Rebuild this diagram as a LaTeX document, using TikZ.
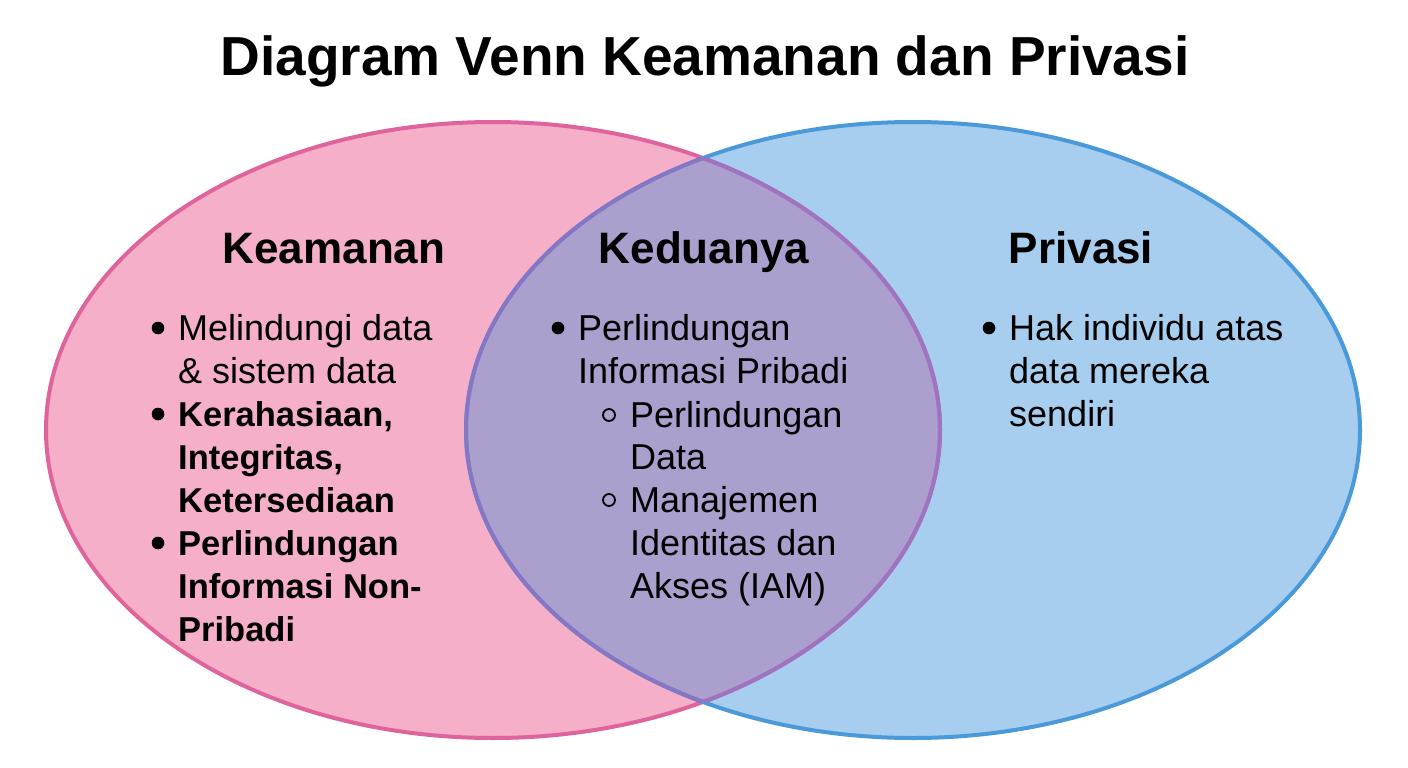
\documentclass[tikz,border=0pt]{standalone}
\usepackage{fontspec}
\setmainfont{Liberation Sans}
\definecolor{pinkfill}{HTML}{F5AFC9}
\definecolor{pinkline}{HTML}{E0649C}
\definecolor{bluefill}{HTML}{A7CEEE}
\definecolor{blueline}{HTML}{4A9ADA}
\definecolor{purplefill}{HTML}{AB9FCD}
\definecolor{lensleft}{HTML}{8676C4}
\definecolor{lensright}{HTML}{9C74C0}
\begin{document}
\begin{tikzpicture}[x=1pt,y=-1pt,
  body/.style={inner sep=0pt, anchor=base west, font=\fontsize{36}{43}\selectfont},
  bodyb/.style={inner sep=0pt, anchor=base west, font=\fontsize{34.5}{43}\selectfont\bfseries},
  head/.style={inner sep=0pt, anchor=base, font=\fontsize{44}{50}\selectfont\bfseries},
  ttl/.style={inner sep=0pt, anchor=base, font=\fontsize{55}{60}\selectfont\bfseries},
  outl/.style={line width=4pt}]
\fill[white] (0,0) rectangle (1408,768);
% fills
\fill[pinkfill] (493,430) ellipse (447 and 308);
\fill[bluefill] (913,430) ellipse (447 and 308);
\begin{scope}
  \clip (493,430) ellipse (447 and 308);
  \fill[purplefill] (913,430) ellipse (447 and 308);
\end{scope}
% outlines
\draw[outl, pinkline] (493,430) ellipse (447 and 308);
\draw[outl, blueline] (913,430) ellipse (447 and 308);
\begin{scope}
  \clip (493,430) ellipse (447 and 308);
  \draw[outl, lensleft] (913,430) ellipse (447 and 308);
\end{scope}
\begin{scope}
  \clip (913,430) ellipse (447 and 308);
  \draw[outl, lensright] (493,430) ellipse (447 and 308);
\end{scope}
% title
\node[ttl] (title) at (705,75) {Diagram Venn Keamanan dan Privasi};
% headings
\node[head] (hk) at (334,263) {Keamanan};
\node[head] (hd) at (704,263) {Keduanya};
\node[head] (hp) at (1081,263) {Privasi};
% left
\node[body] (l1) at (178,340) {Melindungi data};
\node[body] (l2) at (178,383) {\& sistem data};
\node[bodyb] (l3) at (178,426) {Kerahasiaan,};
\node[bodyb] (l4) at (178,469) {Integritas,};
\node[bodyb] (l5) at (178,512) {Ketersediaan};
\node[bodyb] (l6) at (178,555) {Perlindungan};
\node[bodyb] (l7) at (178,598) {Informasi Non-};
\node[bodyb] (l8) at (178,641) {Pribadi};
\foreach \n in {l1,l3,l6}
  \fill ([xshift=-20pt,yshift=12pt]\n.base west) circle (6.3pt);
% middle
\node[body] (m1) at (578,340) {Perlindungan};
\node[body] (m2) at (578,383) {Informasi Pribadi};
\node[body] (m3) at (630,427) {Perlindungan};
\node[body] (m4) at (630,469) {Data};
\node[body] (m5) at (630,512) {Manajemen};
\node[body] (m6) at (630,555) {Identitas dan};
\node[body] (m7) at (630,598) {Akses (IAM)};
\fill ([xshift=-20pt,yshift=12pt]m1.base west) circle (6.3pt);
\foreach \n in {m3,m5}
  \draw[line width=1.8pt] ([xshift=-21pt,yshift=12pt]\n.base west) circle (6pt);
% right
\node[body] (r1) at (1009,340) {Hak individu atas};
\node[body] (r2) at (1009,383) {data mereka};
\node[body] (r3) at (1009,426) {sendiri};
\fill ([xshift=-20pt,yshift=12pt]r1.base west) circle (6.3pt);
\end{tikzpicture}
\end{document}
